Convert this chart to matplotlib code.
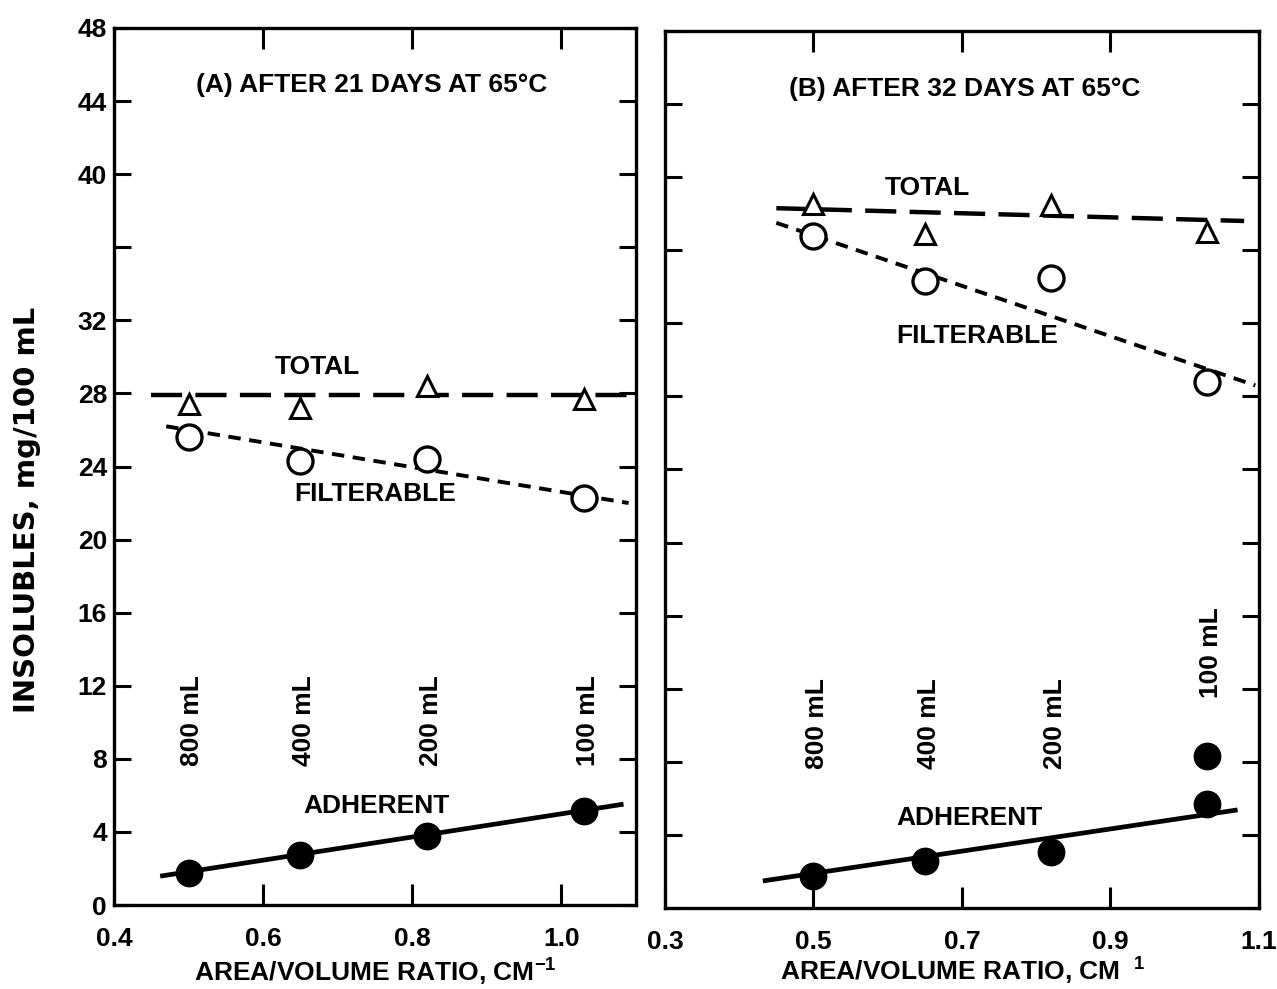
import matplotlib
matplotlib.use('Agg')
import matplotlib.pyplot as plt

plt.rcParams['font.family'] = ['Liberation Sans', 'DejaVu Sans']
plt.rcParams['font.weight'] = 'bold'
plt.rcParams['mathtext.fontset'] = 'custom'
plt.rcParams['mathtext.rm'] = 'Liberation Sans:bold'
plt.rcParams['mathtext.default'] = 'rm'

# area/volume ratio of the four vessels
ratio = [0.50, 0.65, 0.82, 1.03]
volumes = ['800 mL', '400 mL', '200 mL', '100 mL']

# (A) 21 days
a_total = [27.4, 27.2, 28.4, 27.7]
a_filt = [25.6, 24.3, 24.4, 22.3]
a_adh = [1.75, 2.75, 3.8, 5.15]
a_total_fit_x, a_total_fit_y = [0.45, 1.10], [27.9, 27.9]
a_filt_fit_x, a_filt_fit_y = [0.47, 1.09], [26.2, 22.0]
a_adh_fit_x, a_adh_fit_y = [0.465, 1.08], [1.6, 5.5]

# (B) 32 days
b_total = [38.55, 36.9, 38.5, 37.0]
b_filt = [36.8, 34.3, 34.5, 28.8]
b_adh = [1.75, 2.55, 3.05, 5.7]
b_adh_extra_x, b_adh_extra_y = [1.03], [8.3]
b_total_fit_x, b_total_fit_y = [0.45, 1.08], [38.3, 37.6]
b_filt_fit_x, b_filt_fit_y = [0.45, 1.095], [37.5, 28.6]
b_adh_fit_x, b_adh_fit_y = [0.435, 1.068], [1.5, 5.35]

yticks = list(range(0, 49, 4))
ylabels = [str(v) if v != 36 else '' for v in yticks]

fig = plt.figure(figsize=(12.77, 9.89), dpi=100)
ax1 = fig.add_axes([0.0893, 0.0849, 0.4088, 0.8868])
ax2 = fig.add_axes([0.5207, 0.0819, 0.4652, 0.8868])

fs = 19


def style(ax, xlim, xticks, show_ylabels):
    ax.set_xlim(*xlim)
    ax.set_ylim(0, 48)
    for s in ax.spines.values():
        s.set_linewidth(2.4)
    ax.set_xticks(xticks)
    ax.set_xticklabels(['%.1f' % t for t in xticks], fontsize=fs, fontweight='bold')
    ax.set_yticks(yticks)
    if show_ylabels:
        ax.set_yticklabels(ylabels, fontsize=fs, fontweight='bold')
    else:
        ax.set_yticklabels([])
    ax.tick_params(axis='x', direction='in', length=15, width=2.2, top=True, pad=16)
    ax.tick_params(axis='y', direction='in', length=12, width=2.2, right=True, pad=5)


def draw(ax, total, filt, adh, tfx, tfy, ffx, ffy, afx, afy):
    ax.plot(tfx, tfy, color='black', lw=3.2, dashes=(7, 3), zorder=2)
    ax.plot(ffx, ffy, color='black', lw=2.8, dashes=(3.2, 2.2), zorder=2)
    ax.plot(afx, afy, color='black', lw=3.4, zorder=2)
    ax.plot(ratio, total, ls='none', marker='^', ms=14, mfc='white', mec='black', mew=2.2, zorder=3)
    ax.plot(ratio, filt, ls='none', marker='o', ms=18, mfc='white', mec='black', mew=2.4, zorder=3)
    ax.plot(ratio, adh, ls='none', marker='o', ms=19, mfc='black', mec='black', zorder=3)


style(ax1, (0.4, 1.1), [0.4, 0.6, 0.8, 1.0], True)
style(ax2, (0.3, 1.1), [0.3, 0.5, 0.7, 0.9, 1.1], False)

draw(ax1, a_total, a_filt, a_adh, a_total_fit_x, a_total_fit_y,
     a_filt_fit_x, a_filt_fit_y, a_adh_fit_x, a_adh_fit_y)
draw(ax2, b_total, b_filt, b_adh, b_total_fit_x, b_total_fit_y,
     b_filt_fit_x, b_filt_fit_y, b_adh_fit_x, b_adh_fit_y)
ax2.plot(b_adh_extra_x, b_adh_extra_y, ls='none', marker='o', ms=19, mfc='black', mec='black', zorder=3)

tk = dict(fontsize=19, fontweight='bold', ha='center', va='center')
ax1.text(0.746, 44.9, '(A) AFTER 21 DAYS AT 65°C', **tk)
ax1.text(0.673, 29.45, 'TOTAL', **tk)
ax1.text(0.75, 22.5, 'FILTERABLE', **tk)
ax1.text(0.752, 5.4, 'ADHERENT', **tk)

ax2.text(0.703, 44.8, '(B) AFTER 32 DAYS AT 65°C', **tk)
ax2.text(0.654, 39.4, 'TOTAL', **tk)
ax2.text(0.72, 31.3, 'FILTERABLE', **tk)
ax2.text(0.71, 4.9, 'ADHERENT', **tk)

for x, v in zip(ratio, volumes):
    ax1.text(x + 0.005, 10.1, v, rotation=90, **tk)
for x, v, y in zip(ratio, volumes, [10.1, 10.1, 10.1, 14.0]):
    ax2.text(x + 0.005, y, v, rotation=90, **tk)

ax1.set_xlabel('AREA/VOLUME RATIO, CM$^{-1}$', fontsize=19, fontweight='bold', labelpad=4)
ax2.set_xlabel('AREA/VOLUME RATIO, CM$^{\\ \\ 1}$', fontsize=19, fontweight='bold', labelpad=1)
fig.text(0.021, 1 - 510 / 989, 'INSOLUBLES, mg/100 mL', rotation=90, fontsize=21,
         fontweight='bold', family='DejaVu Sans', ha='center', va='center')

fig.savefig('out.png', dpi=100)
